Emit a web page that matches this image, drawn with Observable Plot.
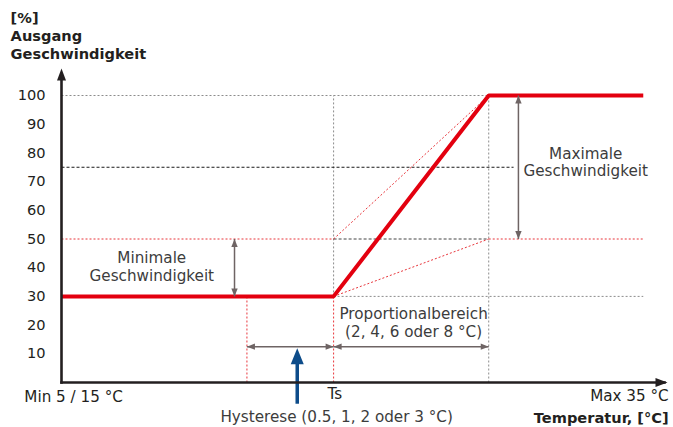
<!DOCTYPE html>
<html>
<head>
<meta charset="utf-8">
<script src="https://cdn.jsdelivr.net/npm/d3@7"></script>
<script src="https://cdn.jsdelivr.net/npm/@observablehq/plot@0.6"></script>
<style>
  html, body { margin: 0; padding: 0; background: #fff; }
  #chart svg { display: block; }
</style>
</head>
<body>
<div id="chart"></div>
<script>
// ---------- data ----------
const yTicks = [10, 20, 30, 40, 50, 60, 70, 80, 90, 100];
const titleLines = ["[%]", "Ausgang", "Geschwindigkeit"];
const xAxisTitle = "Temperatur, [°C]";
const xMinLabel = "Min 5 / 15 °C";
const xTsLabel = "Ts";
const xMaxLabel = "Max 35 °C";

// key temperatures along the (schematic) x axis, abstract units 0..100
const xMin = 0, xHyst = 30.6, xTs = 44.9, xProp = 70.5, xEnd = 96, xAxisEnd = 100;
const yAxisEnd = 109.4;
// output levels [%]
const minSpeed = 30, altSpeed = 50, refSpeed = 75, maxSpeed = 100;

// control curve
const curveX = [xMin, xTs, xProp, xEnd];
const curveY = [minSpeed, minSpeed, maxSpeed, maxSpeed];

// guide segments [x1, y1, x2, y2, kind]
const guides = [
  [xMin, maxSpeed, xProp, maxSpeed, "gray"],
  [xMin, refSpeed, 74.6, refSpeed, "black"],
  [xMin, altSpeed, xTs, altSpeed, "red"],
  [xTs, altSpeed, xProp, altSpeed, "dark"],
  [xProp, altSpeed, xEnd, altSpeed, "red"],
  [xTs, minSpeed, xEnd, minSpeed, "gray"],
  [xTs, minSpeed, xTs, maxSpeed, "gray"],
  [xTs, 0, xTs, minSpeed, "red"],
  [xHyst, 0, xHyst, minSpeed, "red"],
  [xProp, 0, xProp, maxSpeed, "gray"],
  [xTs, altSpeed, xProp, maxSpeed, "red"],
  [xTs, minSpeed, xProp, altSpeed, "red"]
];

// double arrows [x1, y1, x2, y2]
const dimArrows = [
  [28.55, altSpeed, 28.55, minSpeed],
  [75.4, maxSpeed, 75.4, altSpeed],
  [xHyst, 12.5, xTs, 12.5],
  [xTs, 12.5, xProp, 12.5]
];
// hysteresis pointer (blue)
const pointer = {x: 38.9, y1: -7.4, y2: 11.9};

// annotation texts
const notes = [
  {text: "Minimale\nGeschwindigkeit", x: 14.9, y: 40.6},
  {text: "Maximale\nGeschwindigkeit", x: 86.5, y: 76.9},
  {text: "Proportionalbereich\n(2, 4, 6 oder 8 °C)", x: 58.1, y: 21.1},
  {text: "Hysterese (0.5, 1, 2 oder 3 °C)", x: 45.4, y: -11.8}
];

// ---------- build ----------
const seg = guides.map(([x1, y1, x2, y2, kind]) => ({x1, y1, x2, y2, kind}));
const curve = curveX.map((x, i) => ({x, y: curveY[i]}));
const arrowSegs = dimArrows.map(([x1, y1, x2, y2]) => ({x1, y1, x2, y2}));
function dirAngle(dx, dy) { // data direction -> screen rotation of an "up" head
  if (Math.abs(dx) > Math.abs(dy)) return dx > 0 ? 90 : 270;
  return dy > 0 ? 0 : 180;
}
const heads = arrowSegs.flatMap(a => [
  {x: a.x2, y: a.y2, r: dirAngle(a.x2 - a.x1, a.y2 - a.y1)},
  {x: a.x1, y: a.y1, r: dirAngle(a.x1 - a.x2, a.y1 - a.y2)}
]);

function headSymbol(len, half) {
  return {draw(ctx) { ctx.moveTo(0, 0); ctx.lineTo(half, len); ctx.lineTo(-half, len); ctx.closePath(); }};
}
const smallHead = headSymbol(8, 3.2);
const axisHead = headSymbol(12, 4.5);
const blueHead = headSymbol(16, 6.5);

const styles = {
  gray: {stroke: "#8c8c8c", dash: "2,2"},
  black: {stroke: "#1a1a1a", dash: "3,2"},
  dark: {stroke: "#444", dash: "3,2"},
  red: {stroke: "#e8353b", dash: "2,2"}
};

const FONT = "DejaVu Sans";
const FS = 14.6;   // tick labels, bold titles
const FN = 15.2;   // regular annotation text
const ink = "#231f20";
const noteInk = "#3c3c3c";

const marks = [];
for (const k of Object.keys(styles)) {
  marks.push(Plot.link(seg.filter(d => d.kind === k), {
    x1: "x1", y1: "y1", x2: "x2", y2: "y2",
    stroke: styles[k].stroke, strokeWidth: 1, strokeDasharray: styles[k].dash
  }));
}
marks.push(
  Plot.line(curve, {x: "x", y: "y", stroke: "#e3000f", strokeWidth: 4,
    strokeLinejoin: "miter", strokeLinecap: "butt"}),
  Plot.link(arrowSegs, {x1: "x1", y1: "y1", x2: "x2", y2: "y2", stroke: "#6e6464", strokeWidth: 1.5}),
  Plot.dot(heads, {x: "x", y: "y", rotate: "r", symbol: smallHead, r: 1, fill: "#6e6464", stroke: "none"}),
  Plot.link([pointer], {x1: "x", y1: "y1", x2: "x", y2: d => d.y2 - 4, stroke: "#0d4c8a", strokeWidth: 3.5}),
  Plot.dot([pointer], {x: "x", y: "y2", symbol: blueHead, r: 1, fill: "#0d4c8a", stroke: "none"}),
  // axes lines with arrow heads
  Plot.link([{x1: xMin, y1: 0, x2: xMin, y2: yAxisEnd - 2}], {x1: "x1", y1: "y1", x2: "x2", y2: "y2", stroke: ink, strokeWidth: 2.6, strokeLinecap: "square"}),
  Plot.link([{x1: xMin, y1: 0, x2: xAxisEnd - 0.5, y2: 0}], {x1: "x1", y1: "y1", x2: "x2", y2: "y2", stroke: ink, strokeWidth: 2.6, strokeLinecap: "square"}),
  Plot.dot([{x: xMin, y: yAxisEnd, r: 0}, {x: xAxisEnd, y: 0, r: 90}], {x: "x", y: "y", rotate: "r", symbol: axisHead, r: 1, fill: ink, stroke: "none"}),
  Plot.axisY(yTicks, {tickSize: 0, tickPadding: 16, fontSize: FS, fill: ink, label: null}),
  // texts
  Plot.text(notes, {x: "x", y: "y", text: "text", fontSize: FN, fill: noteInk, lineHeight: 1.17, textAnchor: "middle"}),
  Plot.text([xTsLabel], {x: xTs + 0.2, y: -3.9, text: d => d, fontSize: FN, fill: ink}),
  Plot.text([xMinLabel], {x: 2, y: -5, text: d => d, fontSize: FN, fill: ink}),
  Plot.text([xMaxLabel], {x: xAxisEnd + 0.2, y: -4.8, text: d => d, fontSize: FN, fill: ink, textAnchor: "end"}),
  Plot.text([xAxisTitle], {x: xAxisEnd + 0.2, y: -12.5, text: d => d, fontSize: FS, fill: ink, textAnchor: "end", fontWeight: "bold"}),
  Plot.text([titleLines.join("\n")], {x: -8.4, y: 120.9, text: d => d, fontSize: FS, fill: ink, textAnchor: "start", fontWeight: "bold", lineHeight: 1.22})
);

const chart = Plot.plot({
  width: 673,
  height: 427,
  marginTop: 95,
  marginRight: 6,
  marginBottom: 45,
  marginLeft: 61,
  x: {domain: [0, 100], axis: null},
  y: {domain: [0, 100], axis: null},
  style: {fontFamily: FONT, fontSize: FS + "px", background: "#fff", color: ink},
  marks
});
document.getElementById("chart").appendChild(chart);
</script>
</body>
</html>
